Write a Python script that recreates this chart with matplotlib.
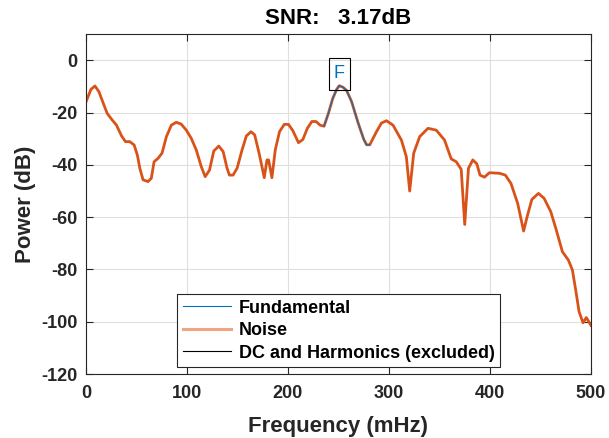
import numpy as np
import matplotlib
matplotlib.use("Agg")
import matplotlib.pyplot as plt
from matplotlib.lines import Line2D
from matplotlib.path import Path

# power spectrum (mHz, dB)
freq = [0, 4.9, 8.9, 12.8, 17.1, 21.0, 25.3, 30.2, 35.2, 39.1, 43.4, 47.7, 50.9, 53.3,
        56.5, 61.4, 64.7, 67.4, 71.3, 75.3, 79.6, 84.5, 89.4, 94.3, 99.3, 104.2, 109.2,
        114.1, 118.0, 122.3, 126.5, 131.5, 135.8, 139.7, 142.0, 145.6, 149.6, 154.5,
        158.8, 163.4, 167.0, 171.0, 174.2, 176.5, 179.2, 180.8, 184.1, 187.4, 191.6,
        196.3, 200.5, 204.8, 210.4, 214.7, 219.2, 223.6, 227.8, 231.8, 235.7, 240.0,
        244.3, 248.2, 250.8, 254.5, 258.0, 263.0, 269.5, 275.0, 277.8, 281.0, 287.6,
        292.5, 297.5, 304.0, 312.3, 317.2, 320.5, 324.5, 330.4, 338.6, 346.8, 355.0,
        361.6, 366.6, 371.5, 375.0, 378.7, 383.0, 387.0, 390.1, 394.5, 399.4, 409.3,
        415.2, 420.8, 427.4, 433.3, 437.2, 441.5, 448.0, 453.6, 460.2, 465.2, 471.7,
        477.6, 481.6, 484.9, 488.2, 492.1, 495.4, 500.0]
power = [-15.9, -11.1, -9.8, -12.0, -16.4, -20.3, -22.5, -24.8, -28.9, -31.1, -31.1, -32.4,
         -36.3, -41.3, -45.7, -46.4, -45.1, -38.8, -37.5, -35.5, -29.2, -24.8, -23.7, -24.4,
         -26.7, -29.8, -34.3, -40.6, -44.5, -42.0, -34.7, -32.8, -34.9, -41.3, -43.9, -43.9,
         -41.3, -34.3, -28.9, -27.3, -28.5, -34.9, -40.6, -44.9, -38.1, -38.1, -44.9, -34.3,
         -27.3, -24.5, -24.5, -26.9, -31.5, -30.3, -26.0, -23.4, -23.4, -24.8, -25.2, -20.3,
         -14.6, -11.1, -9.7, -10.3, -11.5, -15.8, -24.0, -30.2, -32.3, -32.3, -27.3, -24.0,
         -23.1, -24.8, -30.5, -36.9, -50.0, -35.5, -29.2, -26.0, -26.7, -30.5, -37.7, -38.8,
         -41.7, -62.8, -41.3, -38.1, -39.6, -43.9, -44.7, -43.0, -43.2, -43.9, -47.1, -54.7,
         -65.3, -59.2, -53.2, -50.9, -52.8, -57.9, -64.3, -73.2, -76.4, -80.2, -87.9, -96.1,
         -100.4, -98.4, -101.4]
fund_band = [235.0, 282.0]
snr_db = 3.17

freq = np.array(freq)
power = np.array(power)
inband = (freq >= fund_band[0]) & (freq <= fund_band[1])
ipk = np.argmax(np.where(inband, power, -np.inf))


def tall_box(x0, y0, width, height, mutation_size):
    # MATLAB-like text box: taller than wide
    cx = x0 + width / 2
    cy = y0 + height / 2
    hw = 0.58 * mutation_size
    hh = 0.88 * mutation_size
    return Path([(cx - hw, cy - hh), (cx + hw, cy - hh), (cx + hw, cy + hh),
                 (cx - hw, cy + hh), (cx - hw, cy - hh)], closed=True)


plt.rcParams['font.family'] = ['Liberation Sans', 'DejaVu Sans']
plt.rcParams['font.weight'] = 'bold'
plt.rcParams['axes.unicode_minus'] = False

fig = plt.figure(figsize=(6.09, 4.38), dpi=100)
ax = fig.add_axes([0.1412, 0.1461, 0.8292, 0.7758])

orange = '#D95319'
blue = '#0072BD'
dark = '#262626'
ax.plot(freq, power, color=orange, lw=2.0)
ax.plot(freq[inband], power[inband], color=blue, lw=0.8)

ax.text(freq[ipk], power[ipk] + 4.6, 'F', color=blue, fontsize=13,
        fontweight='normal', ha='center', va='center',
        bbox=dict(boxstyle=tall_box, fc='none', ec='black', lw=0.8))

ax.set_xlim(0, 500)
ax.set_ylim(-120, 10)
ax.set_xticks([0, 100, 200, 300, 400, 500])
ax.set_yticks([-120, -100, -80, -60, -40, -20, 0])
ax.grid(True, color='#DFDFDF', lw=0.8)
ax.set_axisbelow(True)
ax.tick_params(direction='in', top=True, right=True, labelsize=13, length=5,
               color=dark, labelcolor=dark)
ax.tick_params(axis='x', pad=8)
ax.tick_params(axis='y', pad=6)
for s in ax.spines.values():
    s.set_color(dark)
    s.set_linewidth(0.8)

ax.set_xlabel('Frequency (mHz)', fontsize=16, fontweight='bold', color=dark, labelpad=10)
ax.set_ylabel('Power (dB)', fontsize=16, fontweight='bold', color=dark, labelpad=4)
ax.set_title('SNR:   %.2fdB' % snr_db, fontsize=16, fontweight='bold', pad=7)

handles = [Line2D([], [], color=blue, lw=0.8),
           Line2D([], [], color='#F0A582', lw=2.2),
           Line2D([], [], color='black', lw=0.8)]
labels = ['Fundamental', 'Noise', 'DC and Harmonics (excluded)']
leg = ax.legend(handles, labels, loc='lower center', bbox_to_anchor=(0.5, 0.01),
                fontsize=13, fancybox=False, framealpha=1, edgecolor=dark,
                handlelength=2.7, labelspacing=0.3, borderpad=0.3, handletextpad=0.4,
                borderaxespad=0.2)
leg.get_frame().set_linewidth(0.8)

fig.savefig('out.png', dpi=100)
